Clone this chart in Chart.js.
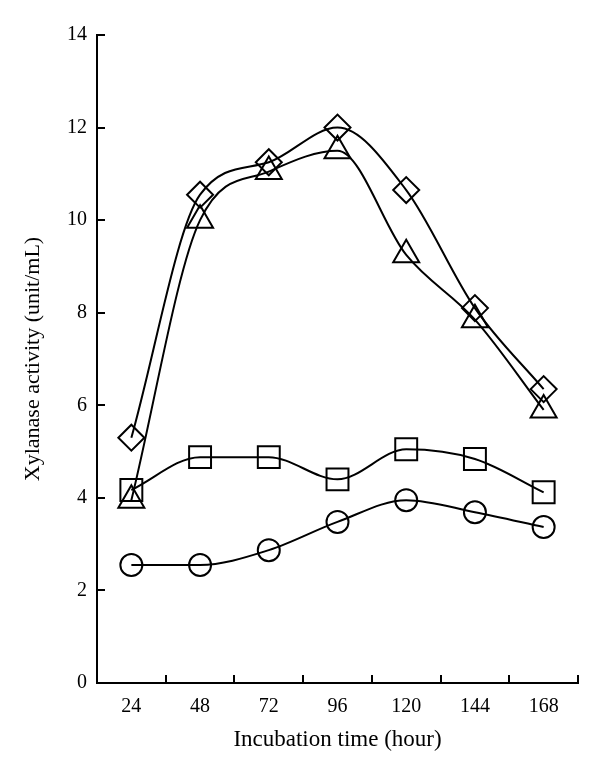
<!DOCTYPE html>
<html>
<head>
<meta charset="utf-8">
<script src="https://cdn.jsdelivr.net/npm/chart.js@4/dist/chart.umd.min.js"></script>
<style>
html,body{margin:0;padding:0;background:#fff;}
#wrap{width:600px;height:770px;position:relative;}
</style>
</head>
<body>
<div id="wrap"><canvas id="c" width="600" height="770"></canvas></div>
<script>
const hours = [24, 48, 72, 96, 120, 144, 168];
const diamondSeries = [5.3, 10.55, 11.25, 12.0, 10.65, 8.1, 6.35];
const triangleSeries = [3.95, 10.0, 11.05, 11.5, 9.25, 7.85, 5.9];
const squareSeries = [4.17, 4.88, 4.88, 4.4, 5.05, 4.84, 4.12];
const circleSeries = [2.55, 2.55, 2.87, 3.48, 3.95, 3.69, 3.37];
const yTickValues = [0, 2, 4, 6, 8, 10, 12, 14];
const xTickLabels = ['24', '48', '72', '96', '120', '144', '168'];

const FONT = "'Liberation Serif', 'DejaVu Serif', serif";

function pts(vals) { return hours.map((h, i) => ({ x: h, y: vals[i] })); }
function ds(vals, style, r) {
  return {
    data: pts(vals),
    borderColor: '#000',
    borderWidth: 2,
    pointStyle: style,
    pointRadius: r,
    pointBorderWidth: 2,
    pointBorderColor: '#000',
    pointBackgroundColor: 'rgba(0,0,0,0)',
    tension: 0.4,
    cubicInterpolationMode: 'monotone',
    fill: false
  };
}

const inwardTicks = {
  id: 'inwardTicks',
  afterDraw(chart) {
    const ctx = chart.ctx;
    const xs = chart.scales.x, ys = chart.scales.y;
    const len = 8;
    ctx.save();
    ctx.strokeStyle = '#000';
    ctx.lineWidth = 2;
    ctx.beginPath();
    xs.ticks.forEach(t => {
      if ((t.value - 12) % 24 === 0 && t.value > 12) {
        const px = Math.round(xs.getPixelForValue(t.value));
        ctx.moveTo(px, xs.top);
        ctx.lineTo(px, xs.top - len);
      }
    });
    yTickValues.forEach(v => {
      const py = Math.round(ys.getPixelForValue(v));
      ctx.moveTo(ys.right, py);
      ctx.lineTo(ys.right + len, py);
    });
    ctx.stroke();
    ctx.restore();
  }
};

new Chart(document.getElementById('c'), {
  type: 'line',
  data: {
    datasets: [
      ds(diamondSeries, 'rectRot', 13),
      ds(triangleSeries, 'triangle', 15),
      ds(squareSeries, 'rect', 15.5),
      ds(circleSeries, 'circle', 11)
    ]
  },
  options: {
    responsive: false,
    animation: false,
    layout: { padding: { top: 35, right: 22, left: 0, bottom: 0 } },
    plugins: { legend: { display: false }, tooltip: { enabled: false } },
    scales: {
      x: {
        type: 'linear',
        min: 12, max: 180,
        afterFit(s) { s.height = 87; },
        border: { display: true, color: '#000', width: 2 },
        grid: { display: false, drawTicks: false },
        ticks: {
          stepSize: 12,
          autoSkip: false,
          maxRotation: 0,
          padding: 12,
          color: '#000',
          font: { family: FONT, size: 20 },
          callback: (v) => {
            const i = hours.indexOf(v);
            return i >= 0 ? xTickLabels[i] : '';
          }
        },
        title: {
          display: true,
          text: 'Incubation time (hour)',
          color: '#000',
          font: { family: FONT, size: 23 },
          padding: { top: 4, bottom: 16 }
        }
      },
      y: {
        min: 0, max: 14,
        afterFit(s) { s.width = 97; },
        border: { display: true, color: '#000', width: 2 },
        grid: { display: false, drawTicks: false },
        ticks: {
          stepSize: 2,
          padding: 10,
          color: '#000',
          font: { family: FONT, size: 20 }
        },
        title: {
          display: true,
          text: 'Xylanase activity (unit/mL)',
          color: '#000',
          font: { family: FONT, size: 22 },
          padding: { top: 20, bottom: 0 }
        }
      }
    }
  },
  plugins: [inwardTicks]
});
</script>
</body>
</html>
